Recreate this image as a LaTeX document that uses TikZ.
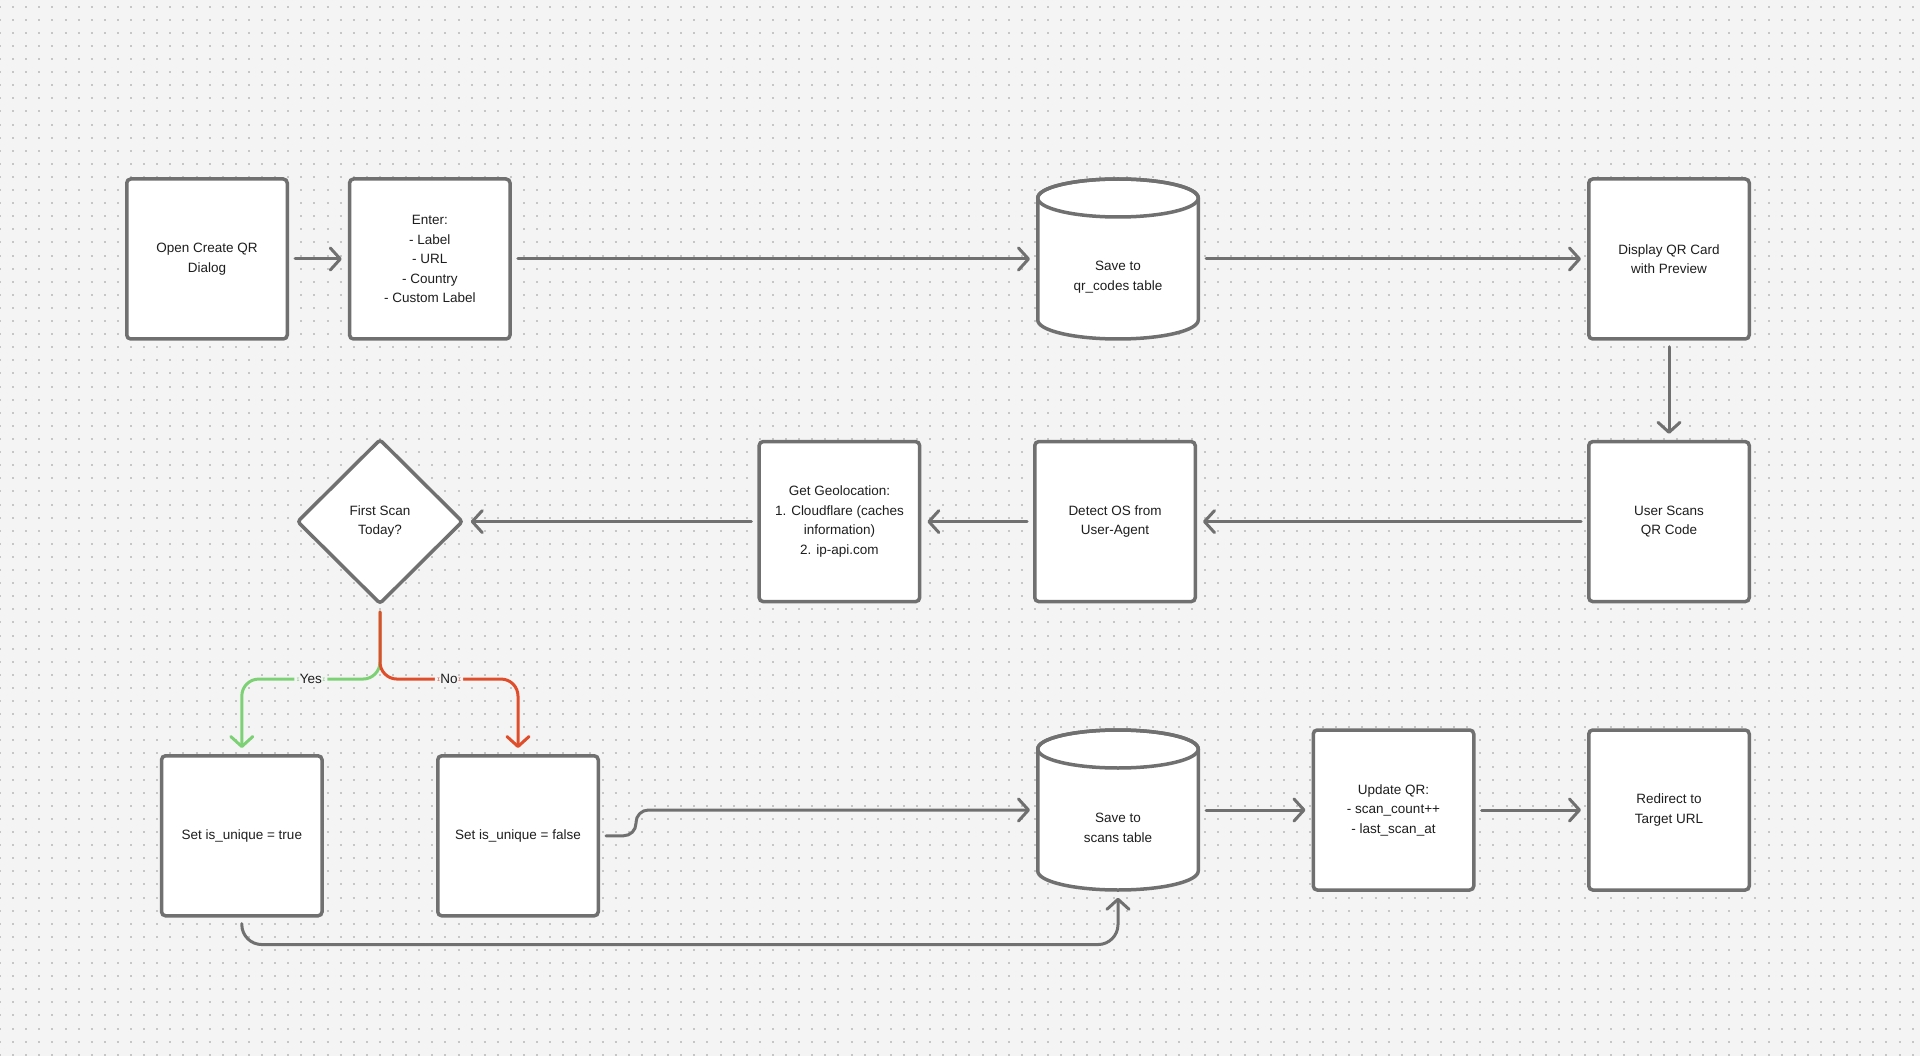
\documentclass[tikz,border=0pt]{standalone}
\usepackage{fontspec}
\setmainfont{Liberation Sans}
\usetikzlibrary{arrows.meta,shapes.geometric,calc}
\definecolor{bg}{HTML}{F4F4F4}
\definecolor{dotc}{HTML}{C6C6C6}
\definecolor{edge}{HTML}{707070}
\definecolor{txt}{HTML}{1E1E1E}
\definecolor{yesg}{HTML}{7DD175}
\definecolor{nor}{HTML}{E04D2B}
\newcommand{\dbcyl}[4]{%
  \filldraw[draw=edge,fill=white,line width=3.5pt,line join=round]
    ({#2-80.25},{#3-61}) -- ({#2-80.25},{#3+61})
    arc[start angle=180,end angle=360,x radius=80.25pt,y radius=19pt]
    -- ({#2+80.25},{#3-61})
    arc[start angle=0,end angle=180,x radius=80.25pt,y radius=19pt] -- cycle;
  \draw[draw=edge,line width=3.5pt] ({#2},{#3-61}) ellipse[x radius=80.25pt,y radius=19pt];
  \node[dbnode] (#1) at (#2,#3) {};
  \node[align=center] (#1t) at ({#2},{#3+18}) {#4};
}
\begin{document}
\begin{tikzpicture}[x=1pt,y=-1pt,
  every node/.style={text=txt,font=\fontsize{13.5}{19.5}\selectfont},
  box/.style={draw=edge,fill=white,line width=3.5pt,rounded corners=4pt,minimum width=160.5pt,minimum height=160pt,inner sep=0pt,align=center},
  dbnode/.style={minimum width=160.5pt,minimum height=160pt,inner sep=0pt,outer sep=1.75pt},
  dec/.style={diamond,aspect=1,draw=edge,fill=white,line width=3.5pt,rounded corners=3pt,minimum width=166pt,minimum height=165pt,inner sep=0pt,align=center},
  flow/.style={draw=edge,line width=3pt,line cap=round,line join=round,-{Straight Barb[length=10pt,width=22pt,line cap=round,line join=round]},shorten >=6pt,shorten <=6pt},
  yesflow/.style={flow,draw=yesg,rounded corners=17pt},
  noflow/.style={flow,draw=nor,rounded corners=17pt},
  lbl/.style={fill=bg,inner xsep=5.5pt,inner ysep=2pt}
]
\useasboundingbox (0,0) rectangle (1920,1056);
\fill[bg] (0,0) rectangle (1920,1056);
\foreach \k in {0,...,80}
  \draw[dotc,line width=2pt,dash pattern=on 2pt off 11.1pt] (-1,{6.7+13.1*\k}) -- (1921,{6.7+13.1*\k});

% top row
\node[box] (open) at (207,259) {Open Create QR\\Dialog};
\node[box] (enter) at (429.8,259) {Enter:\\- Label\\- URL\\- Country\\- Custom Label};
\dbcyl{saveqr}{1118}{259}{Save to\\qr\_codes table}
\node[box] (display) at (1669,259) {Display QR Card\\with Preview};

% middle row
\node[box] (scan) at (1669,521.6) {User Scans\\QR Code};
\node[box] (detect) at (1115,521.6) {Detect OS from\\User-Agent};
\node[box] (geo) at (839.4,521.6) {Get Geolocation:\\1. Cloudflare (caches\\information)\\2. ip-api.com};
\node[dec] (first) at (380,521.6) {First Scan\\Today?};

% bottom row
\node[box] (settrue) at (241.8,835.8) {Set is\_unique = true};
\node[box] (setfalse) at (518,835.8) {Set is\_unique = false};
\dbcyl{savescan}{1118}{810}{Save to\\scans table}
\node[box] (update) at (1393.5,810) {Update QR:\\- scan\_count++\\- last\_scan\_at};
\node[box] (redirect) at (1669,810) {Redirect to\\Target URL};

% connectors
\draw[flow] (open.east) -- (enter.west);
\draw[flow] (enter.east) -- (saveqr.west);
\draw[flow] (saveqr.east) -- (display.west);
\draw[flow] (display.south) -- (scan.north);
\draw[flow] (scan.west) -- (detect.east);
\draw[flow] (detect.west) -- (geo.east);
\draw[flow] (geo.west) -- (first.east);

\draw[yesflow] (first.south) |- node[lbl,pos=0.75] (yeslbl) {Yes} ($(settrue.north)+(0,-75)$) -- (settrue.north);
\draw[noflow] (first.south) |- node[lbl,pos=0.75] (nolbl) {No} ($(setfalse.north)+(0,-75)$) -- (setfalse.north);

\draw[flow,rounded corners=12.5pt] (setfalse.east) -- ++(36,0) |- (savescan.west);
\draw[flow,rounded corners=20pt] (settrue.south) -- ++(0,27) -| (savescan.south);
\draw[flow] (savescan.east) -- (update.west);
\draw[flow] (update.east) -- (redirect.west);
\end{tikzpicture}
\end{document}
